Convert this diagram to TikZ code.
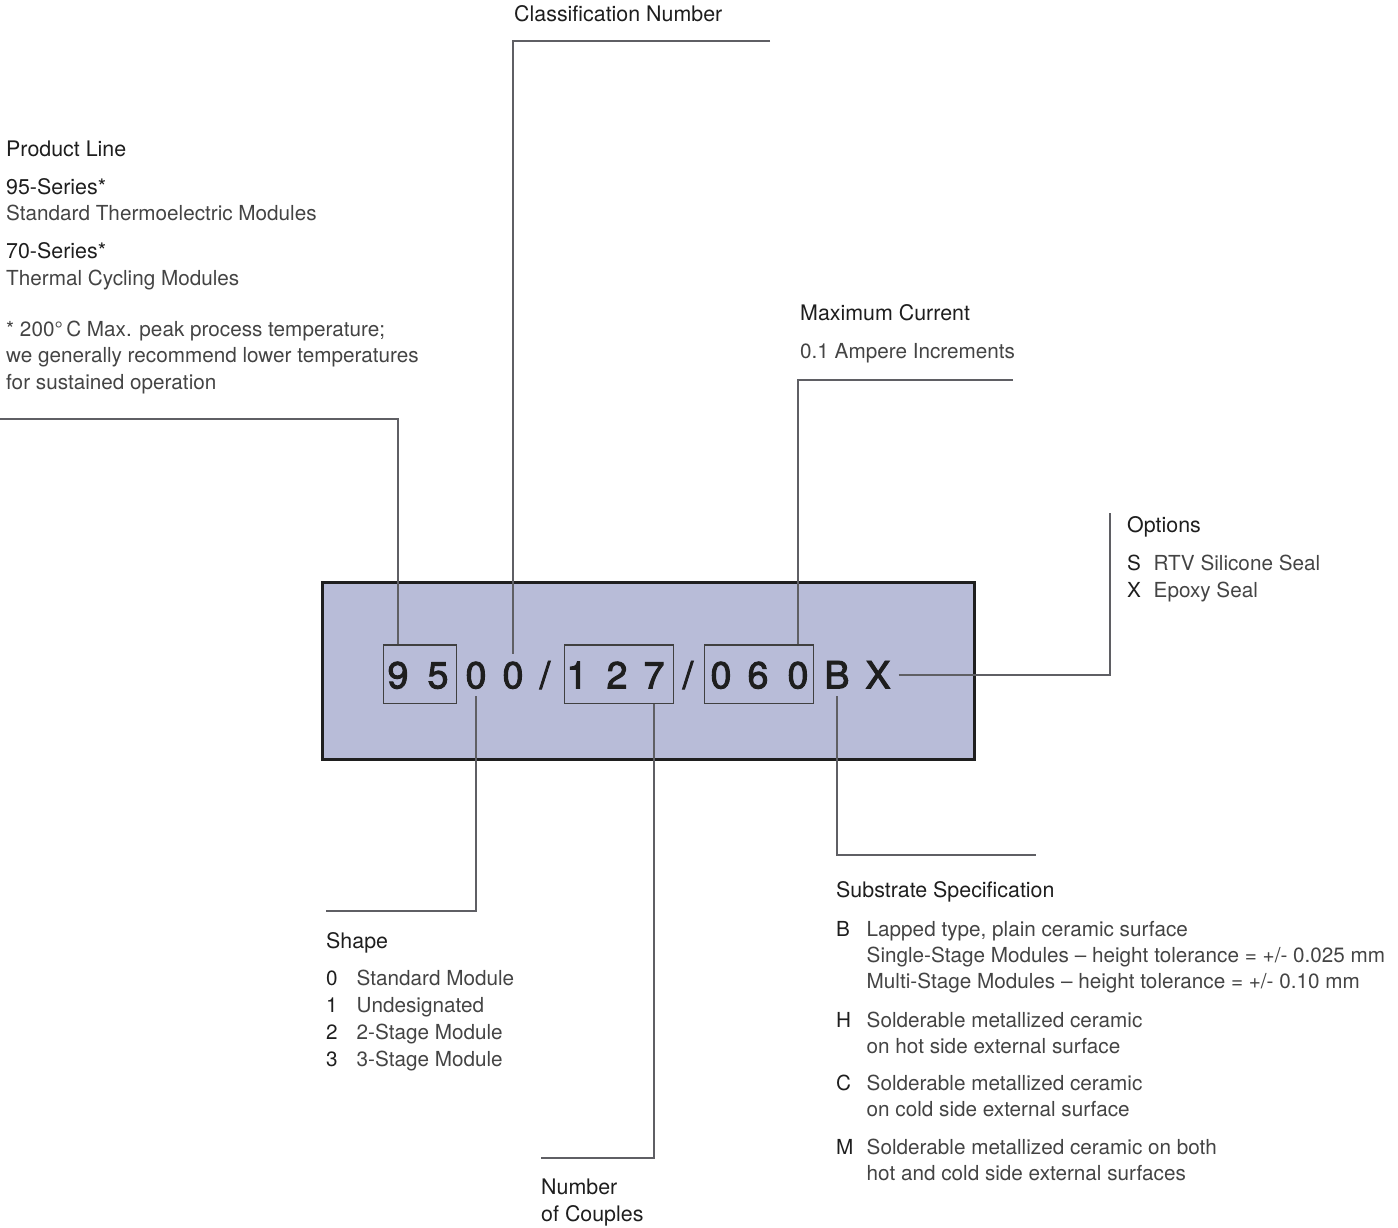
\documentclass[tikz,border=0pt]{standalone}
\usepackage{fontspec}
\setmainfont{TeX Gyre Heros}
\newfontfamily\codefont[FakeBold=2.5]{TeX Gyre Heros}
\usepackage{tikz}
\usetikzlibrary{calc}
\definecolor{boxfill}{RGB}{184,188,216}
\definecolor{leadcol}{RGB}{95,95,100}
\definecolor{headcol}{RGB}{30,30,30}
\definecolor{bodycol}{RGB}{68,68,68}
\tikzset{>=stealth}
\newcommand{\keyitem}[3][30.5pt]{\makebox[#1][l]{\color{headcol}#2}#3}

\begin{document}
\begin{tikzpicture}[x=1pt,y=-1pt,
    lead/.style={draw=leadcol, line width=1.3pt},
    txt/.style={anchor=base west, inner sep=0pt, text=bodycol, font=\fontsize{20.7}{26}\selectfont},
    head/.style={txt, text=headcol, font=\fontsize{21.4}{26}\selectfont},
    digit/.style={anchor=base, inner sep=0pt, outer sep=8pt, text height=26.6pt, text depth=0pt,
      text=headcol, font=\codefont\fontsize{37.5}{40}\selectfont},
    grpbox/.style={draw=black!75, line width=1.2pt, inner sep=0pt, minimum height=58.3pt}]
  \useasboundingbox (0,0) rectangle (1398,1228);
  \node[draw=black!88, fill=boxfill, line width=3pt, minimum width=652pt, minimum height=177pt] (code) at (648.5,671) {};
  \node[grpbox, minimum width=73.4pt] (g95) at (420,674.2) {};
  \node[grpbox, minimum width=109pt] (g127) at (618.8,674.2) {};
  \node[grpbox, minimum width=109pt] (g060) at (758.8,674.2) {};
  \node[digit] (d9) at (398,688.3) {9};
  \node[digit] (d5) at (438,688.3) {5};
  \node[digit] (d0a) at (476,688.3) {0};
  \node[digit] (d0b) at (513,688.3) {0};
  \node[digit] (sl1) at (545,688.3) {/};
  \node[digit] (d1) at (577,688.3) {1};
  \node[digit] (d2) at (617,688.3) {2};
  \node[digit] (d7) at (654,688.3) {7};
  \node[digit] (sl2) at (688,688.3) {/};
  \node[digit] (d0c) at (721,688.3) {0};
  \node[digit] (d6) at (758,688.3) {6};
  \node[digit] (d0d) at (798,688.3) {0};
  \node[digit] (dB) at (837,688.3) {B};
  \node[digit] (dX) at (878,688.3) {X};

  \coordinate (plEnd) at (0,419);
  \coordinate (cnEnd) at (770,41);
  \coordinate (mcEnd) at (1013,380);
  \coordinate (opEnd) at (1110,513);
  \coordinate (shEnd) at (326,911);
  \coordinate (ncEnd) at (541,1158);
  \coordinate (ssEnd) at (1036,855);
  \draw[lead] (plEnd) -| (d9 |- g95.north);
  \draw[lead] (cnEnd) -| (d0b.north);
  \draw[lead] (mcEnd) -| (d0d |- g060.north);
  \draw[lead] (dX.east) -| (opEnd);
  \draw[lead] (d0a.south) |- (shEnd);
  \draw[lead] (d7 |- g127.south) |- (ncEnd);
  \draw[lead] (dB.south) |- (ssEnd);

  \node[head] (cnHead) at (514,22) {Classification Number};

  \node[head] (plHead) at (6,157) {Product Line};
  \node[head] (pl95) at (6,194) {95-Series*};
  \node[txt] (pl95d) at (6,220) {Standard Thermoelectric Modules};
  \node[head] (pl70) at (6,258) {70-Series*};
  \node[txt] (pl70d) at (6,285) {Thermal Cycling Modules};
  \node[txt] (plNoteA) at (6,336) {* 200°\,C Max. peak process temperature;};
  \node[txt] (plNoteB) at (6,362) {we generally recommend lower temperatures};
  \node[txt] (plNoteC) at (6,389) {for sustained operation};

  \node[head] (mcHead) at (800,320) {Maximum Current};
  \node[txt] (mcDesc) at (800,358) {0.1 Ampere Increments};

  \node[head] (opHead) at (1127,532) {Options};
  \node[txt] (opS) at (1127,570) {\keyitem[26.5pt]{S}{RTV Silicone Seal}};
  \node[txt] (opX) at (1127,597) {\keyitem[26.5pt]{X}{Epoxy Seal}};

  \node[head] (shHead) at (326,948) {Shape};
  \node[txt] (sh0) at (326,985) {\keyitem{0}{Standard Module}};
  \node[txt] (sh1) at (326,1012) {\keyitem{1}{Undesignated}};
  \node[txt] (sh2) at (326,1039) {\keyitem{2}{2-Stage Module}};
  \node[txt] (sh3) at (326,1066) {\keyitem{3}{3-Stage Module}};

  \node[head] (ncHead) at (541,1194) {Number};
  \node[head] (ncHeadB) at (541,1221) {of Couples};

  \node[head] (ssHead) at (836,897) {Substrate Specification};
  \node[txt] (ssB) at (836,936) {\keyitem{B}{Lapped type, plain ceramic surface}};
  \node[txt] (ssBb) at (866.5,962) {Single-Stage Modules – height tolerance = +/- 0.025 mm};
  \node[txt] (ssBc) at (866.5,988) {Multi-Stage Modules – height tolerance = +/- 0.10 mm};
  \node[txt] (ssH) at (836,1027) {\keyitem{H}{Solderable metallized ceramic}};
  \node[txt] (ssHb) at (866.5,1053) {on hot side external surface};
  \node[txt] (ssC) at (836,1090) {\keyitem{C}{Solderable metallized ceramic}};
  \node[txt] (ssCb) at (866.5,1116) {on cold side external surface};
  \node[txt] (ssM) at (836,1154) {\keyitem{M}{Solderable metallized ceramic on both}};
  \node[txt] (ssMb) at (866.5,1180) {hot and cold side external surfaces};
\end{tikzpicture}
\end{document}
